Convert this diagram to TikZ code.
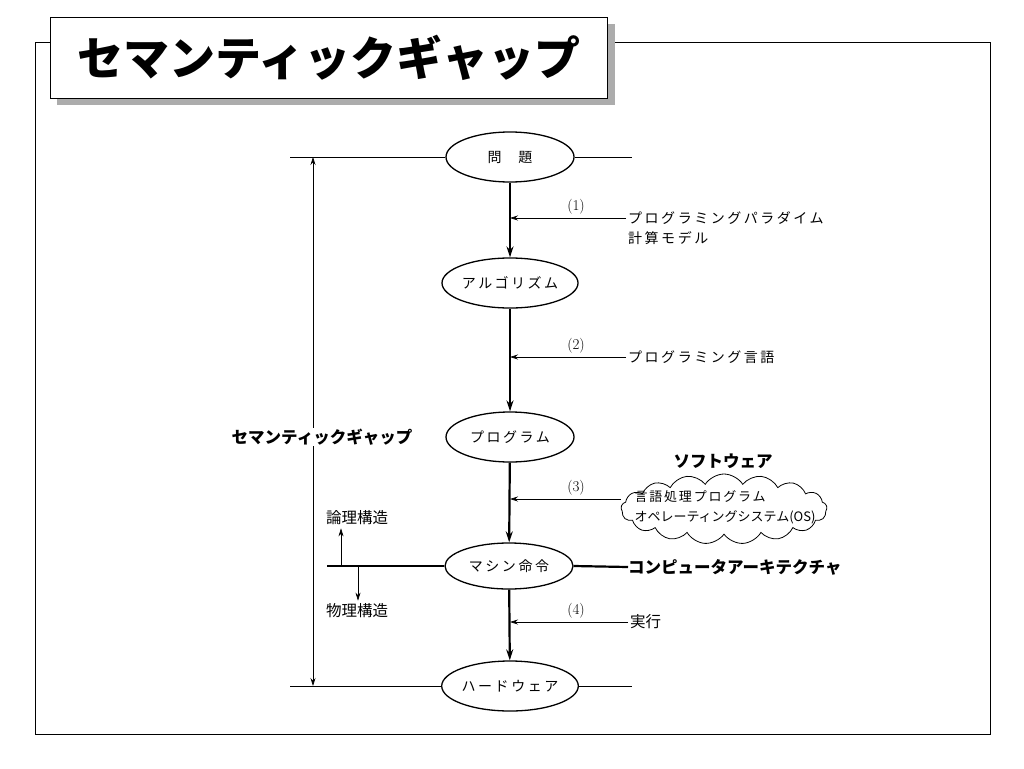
\documentclass[tikz,border=0pt]{standalone}
\usepackage{fontspec}
\usetikzlibrary{shapes.geometric,shapes.symbols,arrows.meta}
\newfontfamily\jpsp[LetterSpace=18]{Noto Sans CJK JP}
\newfontfamily\jpspc[LetterSpace=14]{Noto Sans CJK JP}
\newfontfamily\jp{Noto Sans CJK JP}
\newcommand\jpf{\jpsp\fontsize{14}{17}\selectfont}
\newcommand\jpc{\jp\fontsize{15.5}{20}\selectfont}
\newcommand\jpcl{\jp\fontsize{13}{20}\selectfont}
\newcommand\jpclsp{\jpspc\fontsize{13}{20}\selectfont}
\newcommand\jpbold{\jp\bfseries\fontsize{16.5}{20}\selectfont}
\newcommand\jptitle{\jp\bfseries\fontsize{46}{50}\selectfont}
\begin{document}
\begin{tikzpicture}[x=1pt,y=-1pt,
  ell/.style={ellipse,draw,line width=1.3pt,minimum width=128pt,minimum height=50pt,inner sep=0pt,font=\jpf},
  thinl/.style={line width=0.8pt},
  mainarrow/.style={line width=2.2pt,-{Stealth[length=11pt,width=7pt]}},
  sidearrow/.style={line width=0.7pt,-{Stealth[length=8pt,width=5pt]}},
  lbl/.style={font=\jpf,anchor=west,inner sep=0pt},
  num/.style={font=\fontsize{15}{15}\selectfont,inner sep=0pt},
  boldlbl/.style={font=\jpbold,inner sep=0pt}]
\useasboundingbox (0,0) rectangle (1024,768);
\fill[white] (0,0) rectangle (1024,768);
% frame
\draw[line width=1pt] (35,43) rectangle (990,734);
% title
\fill[gray!65] (57,24) rectangle (615,105);
\node[draw,fill=white,line width=1.2pt,minimum width=557pt,minimum height=81pt,anchor=north west,inner sep=0pt,font=\jptitle] (title) at (50,17) {セマンティックギャップ};
% ellipses
\node[ell] (p) at (510,157) {問\hspace{1.2em}題};
\node[ell] (a) at (510,283) {アルゴリズム};
\node[ell] (g) at (510,437) {プログラム};
\node[ell,minimum height=46pt] (m) at (509,566) {マシン命令};
\node[ell] (h) at (510,686) {ハードウェア};
% horizontal lines
\coordinate (tl) at (290,157);
\coordinate (tr) at (632,157);
\coordinate (bl) at (290,686);
\coordinate (br) at (632,686);
\draw[thinl] (tl) -- (p.west);
\draw[thinl] (p.east) -- (tr);
\draw[thinl] (bl) -- (h.west);
\draw[thinl] (h.east) -- (br);
% semantic gap arrow
\coordinate (gt) at (313,157);
\coordinate (gb) at (313,686);
\draw[line width=0.7pt,{Stealth[length=8pt,width=5pt]}-{Stealth[length=8pt,width=5pt]}] (gt) -- (gb);
\node[boldlbl,fill=white,inner sep=1pt] (sg) at (322,437) {セマンティックギャップ};
% main arrows
\draw[mainarrow] (p) -- (a);
\draw[mainarrow] (a) -- (g);
\draw[mainarrow] (g) -- (m);
\draw[mainarrow] (m) -- (h);
% (1)
\coordinate (s1) at (510,218);
\node[lbl] (t1) at (628,218) {プログラミングパラダイム};
\node[lbl] (t1b) at (628,238) {計算モデル};
\draw[sidearrow,shorten <=2pt] (t1.west) -- (s1);
\node[num] (n1) at (576,207) {(1)};
% (2)
\coordinate (s2) at (510,357);
\node[lbl] (t2) at (628,357) {プログラミング言語};
\draw[sidearrow,shorten <=2pt] (t2.west) -- (s2);
\node[num] (n2) at (576,346) {(2)};
% (3)
\coordinate (s3) at (510,499);
\node[cloud,draw,cloud puffs=17,cloud puff arc=115,cloud ignores aspect,minimum width=206pt,minimum height=70pt,inner sep=0pt,line width=0.8pt] (cl) at (724,509) {};
\node[font=\jpcl,align=left,inner sep=0pt] (ct) at (725,507) {{\jpclsp 言語処理プログラム}\\オペレーティングシステム(OS)};
\draw[sidearrow] (s3 -| cl.west) -- (s3);
\node[num] (n3) at (576,488) {(3)};
\node[boldlbl] (sw) at (723,461) {ソフトウェア};
% computer architecture
\node[boldlbl,anchor=west] (ca) at (628,567) {コンピュータアーキテクチャ};
\draw[line width=2.2pt] (m.east) -- (ca.west);
% left structure
\coordinate (lx) at (327,566);
\draw[line width=2.2pt] (lx) -- (m.west);
\node[font=\jpc,inner sep=0pt] (ron) at (357,518) {論理構造};
\node[font=\jpc,inner sep=0pt] (but) at (357,611) {物理構造};
\coordinate (u1) at (341,566);
\coordinate (d1) at (358,566);
\draw[sidearrow] (u1) -- ([yshift=-3pt]u1 |- ron.south);
\draw[sidearrow] (d1) -- ([yshift=3pt]d1 |- but.north);
% (4)
\coordinate (s4) at (510,622);
\node[lbl,font=\jpc] (t4) at (630,622) {実行};
\draw[sidearrow,shorten <=2pt] (t4.west) -- (s4);
\node[num] (n4) at (576,611) {(4)};
\end{tikzpicture}
\end{document}
